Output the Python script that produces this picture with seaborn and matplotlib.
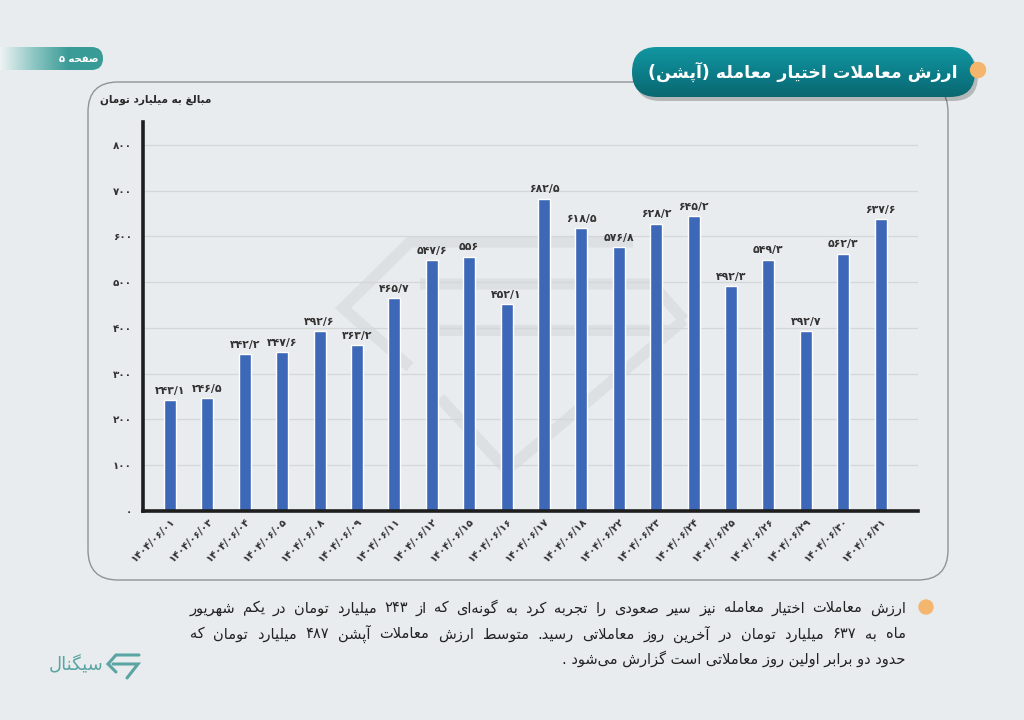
import re
import numpy as np
import pandas as pd
import matplotlib
matplotlib.use('Agg')
import matplotlib.pyplot as plt
import seaborn as sns
from matplotlib.patches import FancyBboxPatch, Circle
from matplotlib.colors import LinearSegmentedColormap

# --- data ---
dates = ['1404/06/01', '1404/06/03', '1404/06/04', '1404/06/05', '1404/06/08',
         '1404/06/09', '1404/06/11', '1404/06/12', '1404/06/15', '1404/06/16',
         '1404/06/17', '1404/06/18', '1404/06/22', '1404/06/23', '1404/06/24',
         '1404/06/25', '1404/06/26', '1404/06/29', '1404/06/30', '1404/06/31']
values = [243.1, 246.5, 342.2, 347.6, 392.6, 363.2, 465.7, 547.6, 556, 452.1,
          682.5, 618.5, 576.8, 628.2, 645.2, 492.3, 549.3, 392.7, 562.3, 637.6]
yticks = [0, 100, 200, 300, 400, 500, 600, 700, 800]

title = 'ارزش معاملات اختیار معامله (آپشن)'
page_label = 'صفحه ۵'
unit_label = 'مبالغ به میلیارد تومان'
brand = 'سیگنال'
note_lines = [
    'ارزش معاملات اختیار معامله نیز سیر صعودی را تجربه کرد به گونه\u200cای که از ۲۴۳ میلیارد تومان در یکم شهریور',
    'ماه به ۶۳۷ میلیارد تومان در آخرین روز معاملاتی رسید. متوسط ارزش معاملات آپشن ۴۸۷ میلیارد تومان که',
    'حدود دو برابر اولین روز معاملاتی است گزارش می\u200cشود .',
]


# --- minimal Persian shaping (matplotlib has no complex text layout) ---
def rng(start, n):
    return tuple(chr(start + i) for i in range(n))

FORMS = {
    '\u0621': rng(0xFE80, 1), '\u0622': rng(0xFE81, 2), '\u0626': rng(0xFE89, 4),
    '\u0627': rng(0xFE8D, 2), '\u0628': rng(0xFE8F, 4), '\u062A': rng(0xFE95, 4),
    '\u062B': rng(0xFE99, 4), '\u062C': rng(0xFE9D, 4), '\u062D': rng(0xFEA1, 4),
    '\u062E': rng(0xFEA5, 4), '\u062F': rng(0xFEA9, 2), '\u0630': rng(0xFEAB, 2),
    '\u0631': rng(0xFEAD, 2), '\u0632': rng(0xFEAF, 2), '\u0698': rng(0xFB8A, 2),
    '\u0633': rng(0xFEB1, 4), '\u0634': rng(0xFEB5, 4), '\u0635': rng(0xFEB9, 4),
    '\u0636': rng(0xFEBD, 4), '\u0637': rng(0xFEC1, 4), '\u0638': rng(0xFEC5, 4),
    '\u0639': rng(0xFEC9, 4), '\u063A': rng(0xFECD, 4), '\u0641': rng(0xFED1, 4),
    '\u0642': rng(0xFED5, 4), '\u0644': rng(0xFEDD, 4), '\u0645': rng(0xFEE1, 4),
    '\u0646': rng(0xFEE5, 4), '\u0647': rng(0xFEE9, 4), '\u0648': rng(0xFEED, 2),
    '\u067E': rng(0xFB56, 4), '\u0686': rng(0xFB7A, 4), '\u06A9': rng(0xFB8E, 4),
    '\u06AF': rng(0xFB92, 4), '\u06CC': rng(0xFBFC, 4),
}
LAM_ALEF = {'\u0627': ('\uFEFB', '\uFEFC'), '\u0622': ('\uFEF5', '\uFEF6')}


def shape(s):
    out, i, n = [], 0, len(s)
    while i < n:
        c = s[i]
        if c not in FORMS:
            if c != '\u200c':
                out.append(c)
            i += 1
            continue
        prev = s[i - 1] if i > 0 else ''
        pc = prev in FORMS and len(FORMS[prev]) == 4
        nxt = s[i + 1] if i + 1 < n else ''
        if c == '\u0644' and nxt in LAM_ALEF:
            out.append(LAM_ALEF[nxt][1 if pc else 0])
            i += 2
            continue
        f = FORMS[c]
        nc = nxt in FORMS and len(f) == 4
        if len(f) == 1:
            out.append(f[0])
        elif len(f) == 2:
            out.append(f[1 if pc else 0])
        else:
            out.append(f[int(pc) + 2 * int(nc)])
        i += 1
    return ''.join(out)


def fa(s):
    runs = re.findall(r'[0-9\u06F0-\u06F9/]+|.', shape(s), flags=re.S)[::-1]
    mirror = {'(': ')', ')': '('}
    return ''.join(mirror.get(r, r) for r in runs)


def to_fa(s):
    return str(s).translate(str.maketrans('0123456789.', '۰۱۲۳۴۵۶۷۸۹/'))


# --- figure ---
sns.set_style('white')
plt.rcParams['font.family'] = ['DejaVu Sans']

BG = '#e9ecee'
fig = plt.figure(figsize=(10.24, 7.2), dpi=100, facecolor=BG)
bg = fig.add_axes([0, 0, 1, 1], zorder=0)
bg.set_facecolor(BG)
bg.axis('off')

ax = fig.add_axes([143 / 1024, 1 - 511 / 720, 775 / 1024, 389 / 720], zorder=2)
ax.set_facecolor('none')

df = pd.DataFrame({'date': [to_fa(d) for d in dates], 'value': values})
sns.barplot(data=df, x='date', y='value', color='#3d68b8', saturation=1,
            width=0.32, ax=ax)
ax.bar_label(ax.containers[0], labels=[to_fa(f'{v:g}') for v in values],
             padding=3, fontsize=7.8, fontweight='bold', color='#333333')

ax.set_ylim(0, 850)
ax.set_xlim(-0.72, 20.0)
ax.set_yticks(yticks)
ax.set_yticklabels([to_fa(t) for t in yticks])
ax.set_xlabel('')
ax.set_ylabel('')
ax.yaxis.grid(True, color='#d4d7da', lw=0.9)
ax.set_axisbelow(True)
ax.tick_params(axis='y', length=0, pad=8, labelsize=7.5, labelcolor='#333333')
ax.tick_params(axis='x', length=0, pad=4, labelsize=7.3, labelcolor='#333333')
for lab in ax.get_xticklabels():
    lab.set_rotation(45)
    lab.set_ha('right')
    lab.set_rotation_mode('anchor')
    lab.set_fontweight('bold')
for lab in ax.get_yticklabels():
    lab.set_fontweight('bold')
for side in ['top', 'right']:
    ax.spines[side].set_visible(False)
for side in ['left', 'bottom']:
    ax.spines[side].set_linewidth(2.6)
    ax.spines[side].set_color('#1e1e1e')

# --- decorations, in pixel coordinates ---
bg.set_xlim(0, 1024)
bg.set_ylim(720, 0)

# watermark logo
wm = dict(color='#dde0e2', lw=8, solid_capstyle='butt', solid_joinstyle='miter', zorder=1)
bg.plot([633, 410, 343, 410], [242, 242, 308, 367], **wm)
bg.plot([420, 652, 684], [284, 284, 320], **wm)
bg.plot([432, 672], [330, 330], **wm)
bg.plot([440, 507, 684], [398, 470, 320], **wm)

# outer frame
bg.add_patch(FancyBboxPatch((88, 82), 860, 498, boxstyle='round,pad=0,rounding_size=30',
                            fc='none', ec='#8f9498', lw=1.0, zorder=2))
bg.text(100, 100, fa(unit_label), color='#2a2a2a', fontsize=7.6, fontweight='bold',
        ha='left', va='center', zorder=3)

# page tab
tab = FancyBboxPatch((-30, 47), 133, 23, boxstyle='round,pad=0,rounding_size=11.5',
                     fc='none', ec='none', zorder=3)
bg.add_patch(tab)
tab_cmap = LinearSegmentedColormap.from_list('tab', ['#eef3f3', '#8cc6c3', '#3a9b97', '#3a9b97'])
im = bg.imshow(np.linspace(0, 1, 256).reshape(1, -1), extent=[0, 103, 70, 47],
               cmap=tab_cmap, aspect='auto', zorder=3)
im.set_clip_path(tab)
bg.text(79, 58.5, fa(page_label), color='white', fontsize=7.2, fontweight='bold',
        ha='center', va='center', zorder=4)

# title pill with shadow
bg.add_patch(FancyBboxPatch((635, 51), 343, 50, boxstyle='round,pad=0,rounding_size=25',
                            fc='#000000', ec='none', alpha=0.22, zorder=3))
pill = FancyBboxPatch((632, 47), 343, 50, boxstyle='round,pad=0,rounding_size=25',
                      fc='none', ec='none', zorder=4)
bg.add_patch(pill)
pill_cmap = LinearSegmentedColormap.from_list('pill', ['#1297a2', '#0c7f8a', '#0a6770'])
im2 = bg.imshow(np.linspace(0, 1, 256).reshape(-1, 1), extent=[632, 975, 97, 47],
                cmap=pill_cmap, aspect='auto', zorder=4)
im2.set_clip_path(pill)
bg.text(803, 72, fa(title), color='white', fontsize=12.5, fontweight='bold',
        ha='center', va='center', zorder=5)
bg.add_patch(Circle((978, 70), 7.5, color='#f5b56c', zorder=6))

# logo bottom-left
bg.text(103, 664, fa(brand), color='#5aa5a3', fontsize=13, ha='right', va='center')
logo = dict(color='#5aa5a3', lw=2.2, solid_joinstyle='miter')
bg.plot([139, 116, 108, 116], [655, 655, 664, 672], **logo)
bg.plot([113, 138, 127], [664, 664, 678], **logo)

bg.set_xlim(0, 1024)
bg.set_ylim(720, 0)

# note text, justified lines
bg.add_patch(Circle((926, 607), 7, color='#f4b66e', zorder=3))
renderer = fig.canvas.get_renderer()
line_y = [608, 634, 659]
x_left, x_right = 190, 906


def place_words(line, y, size):
    words = fa(line).split(' ')
    texts = [bg.text(0, y, w, fontsize=size, color='#222222', ha='left', va='center')
             for w in words]
    widths = [t.get_window_extent(renderer).width for t in texts]
    return texts, widths


size = 10.5
for s in [10.5, 10, 9.5, 9, 8.5]:
    size = s
    ok = True
    for line in note_lines[:2]:
        texts, widths = place_words(line, 0, s)
        gap = (x_right - x_left - sum(widths)) / (len(widths) - 1)
        for t in texts:
            t.remove()
        if gap < 3:
            ok = False
    if ok:
        break

for line, y in zip(note_lines[:2], line_y[:2]):
    texts, widths = place_words(line, y, size)
    gap = (x_right - x_left - sum(widths)) / (len(widths) - 1)
    x = x_left
    for t, w in zip(texts, widths):
        t.set_x(x)
        x += w + gap
bg.text(x_right, line_y[2], fa(note_lines[2]), fontsize=size, color='#222222',
        ha='right', va='center')

fig.savefig('out.png', dpi=100, facecolor=BG)
